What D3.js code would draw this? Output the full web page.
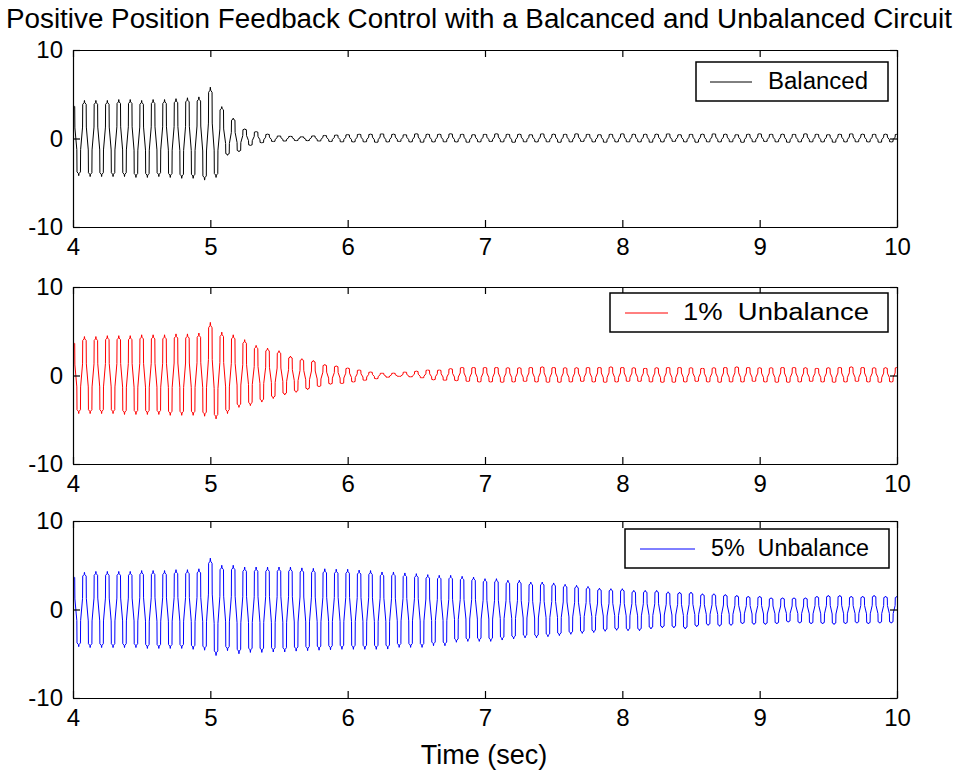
<!DOCTYPE html>
<html>
<head>
<meta charset="utf-8">
<script src="https://cdn.jsdelivr.net/npm/d3@7"></script>
<style>
  body { margin: 0; background: #fff; }
  text { font-family: "Liberation Sans", Arial, Helvetica, sans-serif; fill: #000; }
</style>
</head>
<body>
<div id="chart"></div>
<script>
// ---- data ----
var xTicks = [4, 5, 6, 7, 8, 9, 10];
var yTicks = [-10, 0, 10];
var tStart = 4;
var period = 1 / 12;   // one oscillation, seconds (12 peaks per second)

var seriesNames = ["Balanced", "1%  Unbalance", "5%  Unbalance"];
var seriesColors = ["#000000", "#ff0000", "#0000ff"];

// peak value of each cycle (t = 4 + k/12) and trough value (t = 4 + (k+0.5)/12)
var balancedPeaks = [4.0, 4.3, 4.3, 4.3, 4.4, 4.4, 4.3, 4.4, 4.4, 4.5, 4.6, 4.7,
  5.8,
  3.6, 2.3, 1.1, 0.8, 0.5, 0.3, 0.25, 0.2, 0.3, 0.35, 0.4,
  0.45, 0.5, 0.5, 0.55, 0.5, 0.45, 0.55, 0.5, 0.5, 0.55, 0.5, 0.45, 0.5, 0.55, 0.5,
  0.5, 0.45, 0.55, 0.5, 0.5, 0.55, 0.5, 0.45, 0.5, 0.55, 0.5, 0.5, 0.5, 0.55, 0.45,
  0.5, 0.5, 0.55, 0.5, 0.45, 0.5, 0.55, 0.5, 0.5, 0.5, 0.55, 0.5, 0.45, 0.5, 0.55,
  0.5, 0.5, 0.5, 0.5];
var balancedTroughs = [-4.2, -4.3, -4.3, -4.3, -4.3, -4.4, -4.4, -4.3, -4.4, -4.5, -4.5, -4.7,
  -4.4,
  -1.9, -1.5, -0.8, -0.5, -0.35, -0.3, -0.25, -0.25, -0.3, -0.35, -0.4,
  -0.4, -0.4, -0.45, -0.4, -0.35, -0.4, -0.45, -0.4, -0.4, -0.4, -0.45, -0.4,
  -0.35, -0.4, -0.45, -0.4, -0.4, -0.4, -0.45, -0.4, -0.35, -0.4, -0.45, -0.4,
  -0.4, -0.4, -0.45, -0.4, -0.35, -0.4, -0.45, -0.4, -0.4, -0.4, -0.45, -0.4,
  -0.35, -0.4, -0.45, -0.4, -0.4, -0.4, -0.45, -0.4, -0.4, -0.4, -0.45, -0.4];

var unbal1Peaks = [4.0, 4.4, 4.4, 4.5, 4.5, 4.5, 4.6, 4.6, 4.6, 4.7, 4.7, 4.8,
  6.0,
  4.9, 4.6, 4.05, 3.4, 3.1, 2.8, 2.2, 1.9, 1.7, 1.25, 1.1,
  0.87, 0.64, 0.4, 0.27, 0.27, 0.4, 0.5, 0.64, 0.64, 0.8, 0.95, 0.95,
  0.95, 0.95, 0.9, 0.9, 0.95, 1.0, 0.95, 0.9, 0.9, 0.95, 0.95, 1.0, 0.95, 0.9,
  0.85, 0.9, 0.95, 0.95, 0.9, 0.85, 0.9, 0.95, 1.0, 0.95, 0.9, 0.9, 0.95, 0.95,
  0.9, 0.85, 0.9, 0.95, 1.0, 0.95, 0.9, 0.9, 0.95];
var unbal1Troughs = [-4.3, -4.3, -4.3, -4.3, -4.4, -4.4, -4.4, -4.4, -4.5, -4.5, -4.5, -4.6,
  -4.9,
  -4.3, -3.6, -3.4, -3.0, -2.6, -2.2, -1.9, -1.6, -1.3, -1.0, -0.95,
  -0.76, -0.57, -0.38, -0.2, -0.1, -0.15, -0.27, -0.5, -0.57, -0.6, -0.7, -0.76,
  -0.76, -0.8, -0.76, -0.7, -0.76, -0.8, -0.8, -0.76, -0.7, -0.76, -0.8, -0.76,
  -0.7, -0.7, -0.76, -0.8, -0.8, -0.76, -0.7, -0.76, -0.8, -0.76, -0.76, -0.7,
  -0.76, -0.8, -0.8, -0.76, -0.7, -0.76, -0.8, -0.76, -0.7, -0.76, -0.8, -0.76];

var unbal5Peaks = [4.0, 4.2, 4.3, 4.3, 4.3, 4.3, 4.4, 4.4, 4.4, 4.5, 4.5, 4.6,
  5.8,
  5.0, 5.0, 4.8, 4.8, 4.8, 4.8, 4.8, 4.7, 4.65, 4.6, 4.55, 4.55, 4.45, 4.4,
  4.24, 4.24, 4.13, 4.05, 3.94, 3.86, 3.86, 3.75, 3.67, 3.48, 3.48, 3.3,
  3.3, 3.1, 3.1, 3.0, 2.84, 2.73, 2.6, 2.42, 2.35, 2.35, 2.16, 2.16,
  2.16, 2.0, 1.97, 1.97, 1.78, 1.78, 1.7, 1.6, 1.5, 1.5, 1.33, 1.33,
  1.33, 1.33, 1.5, 1.6, 1.6, 1.5, 1.5, 1.6, 1.5, 1.5];
var unbal5Troughs = [-4.2, -4.3, -4.3, -4.3, -4.3, -4.3, -4.4, -4.4, -4.4, -4.4, -4.5, -4.6,
  -5.2,
  -4.65, -5.0, -4.85, -4.85, -4.8, -4.8, -4.7, -4.65, -4.6, -4.55, -4.5, -4.5, -4.5, -4.5,
  -4.47, -4.28, -4.28, -4.28, -4.09, -4.09, -3.7, -3.6, -3.6, -3.6, -3.45, -3.33,
  -3.2, -3.2, -3.07, -2.95, -2.8, -2.7, -2.6, -2.46, -2.35, -2.4, -2.4, -2.2,
  -2.08, -2.08, -2.2, -1.95, -1.8, -1.9, -1.8, -1.63, -1.7, -1.7, -1.63, -1.44,
  -1.55, -1.63, -1.63, -1.7, -1.63, -1.55, -1.63, -1.55, -1.55];

var seriesPeaks = [balancedPeaks, unbal1Peaks, unbal5Peaks];
var seriesTroughs = [balancedTroughs, unbal1Troughs, unbal5Troughs];

// ---- layout ----
var width = 959, height = 772;
var left = 73, right = 897;
var panelTops = [50, 287, 521];
var panelH = 177;
var legendBoxes = [
  {x: 696, y: 62, w: 192, line: [710, 752], tx: 768, tw: 100},
  {x: 610, y: 293, w: 278, line: [625, 668], tx: 683, tw: 186},
  {x: 625, y: 529, w: 264, line: [640, 695], tx: 711, tw: 158}
];

var svg = d3.select("#chart").append("svg")
  .attr("width", width).attr("height", height);

svg.append("text")
  .attr("x", 479).attr("y", 28)
  .attr("text-anchor", "middle")
  .attr("font-size", 27)
  .attr("textLength", 946)
  .attr("lengthAdjust", "spacingAndGlyphs")
  .text("Positive Position Feedback Control with a Balcanced and Unbalanced Circuit");

var x = d3.scaleLinear().domain([4, 10]).range([left, right]);

// alternating peaks / troughs -> list of extremes
function extremes(peaks, troughs) {
  var out = [];
  for (var k = 0; k < peaks.length; k++) {
    out.push({t: tStart + k * period, v: peaks[k]});
    if (k < troughs.length) out.push({t: tStart + (k + 0.5) * period, v: troughs[k]});
  }
  return out;
}

// stair-shaped half cycle like the sampled trace:
// flat top with a small spike, near-vertical drop with a little jog round zero
function trace(ext) {
  var h = period / 2, pts = [];
  ext.forEach(function(e, i) {
    pts.push([e.t - 0.06 * h, e.v * 0.94]);
    pts.push([e.t, e.v]);
    pts.push([e.t + 0.06 * h, e.v * 0.94]);
    var n = ext[i + 1];
    if (!n) return;
    pts.push([e.t + 0.3 * h, e.v * 0.9]);
    pts.push([e.t + 0.33 * h, e.v * 0.3]);
    pts.push([e.t + 0.67 * h, n.v * 0.3]);
    pts.push([e.t + 0.7 * h, n.v * 0.9]);
  });
  return pts;
}

var fmt = function(d) { return String(d); };

panelTops.forEach(function(top, i) {
  var y = d3.scaleLinear().domain([-10, 10]).range([top + panelH, top]);
  var g = svg.append("g");

  g.append("clipPath").attr("id", "clip" + i)
    .append("rect").attr("x", left).attr("y", top).attr("width", right - left).attr("height", panelH);

  var line = d3.line().x(function(d) { return x(d[0]); }).y(function(d) { return y(d[1]); });
  g.append("path")
    .attr("clip-path", "url(#clip" + i + ")")
    .attr("d", line(trace(extremes(seriesPeaks[i], seriesTroughs[i]))))
    .attr("fill", "none")
    .attr("stroke", seriesColors[i])
    .attr("stroke-width", 1);

  var bottomAxis = d3.axisBottom(x).tickValues(xTicks).tickSize(-7).tickSizeOuter(0).tickPadding(11).tickFormat(fmt);
  var topAxis = d3.axisTop(x).tickValues(xTicks).tickSize(-7).tickSizeOuter(0).tickFormat("");
  var leftAxis = d3.axisLeft(y).tickValues(yTicks).tickSize(-7).tickSizeOuter(0).tickPadding(10).tickFormat(fmt);
  var rightAxis = d3.axisRight(y).tickValues(yTicks).tickSize(-7).tickSizeOuter(0).tickFormat("");

  [[bottomAxis, "translate(0," + (top + panelH) + ")"],
   [topAxis, "translate(0," + top + ")"],
   [leftAxis, "translate(" + left + ",0)"],
   [rightAxis, "translate(" + right + ",0)"]].forEach(function(a) {
    var ax = g.append("g").attr("transform", a[1]).call(a[0]);
    ax.selectAll("path, line").attr("stroke", "#000").attr("stroke-width", 1.2);
    ax.selectAll("text").attr("font-size", 24).attr("font-family", "Liberation Sans, Arial, sans-serif").attr("fill", "#000");
  });

  // legend
  var lb = legendBoxes[i];
  var lg = g.append("g");
  lg.append("rect").attr("x", lb.x).attr("y", lb.y).attr("width", lb.w).attr("height", 39)
    .attr("fill", "#fff").attr("stroke", "#000").attr("stroke-width", 1.5);
  lg.append("line").attr("x1", lb.line[0]).attr("x2", lb.line[1])
    .attr("y1", lb.y + 20).attr("y2", lb.y + 20)
    .attr("stroke", seriesColors[i]).attr("stroke-width", 1);
  lg.append("text").attr("x", lb.tx).attr("y", lb.y + 27)
    .attr("font-size", 23)
    .attr("textLength", lb.tw).attr("lengthAdjust", "spacingAndGlyphs")
    .style("white-space", "pre")
    .text(seriesNames[i]);
});

svg.append("text")
  .attr("x", 484).attr("y", 764)
  .attr("text-anchor", "middle")
  .attr("font-size", 27)
  .text("Time (sec)");
</script>
</body>
</html>
